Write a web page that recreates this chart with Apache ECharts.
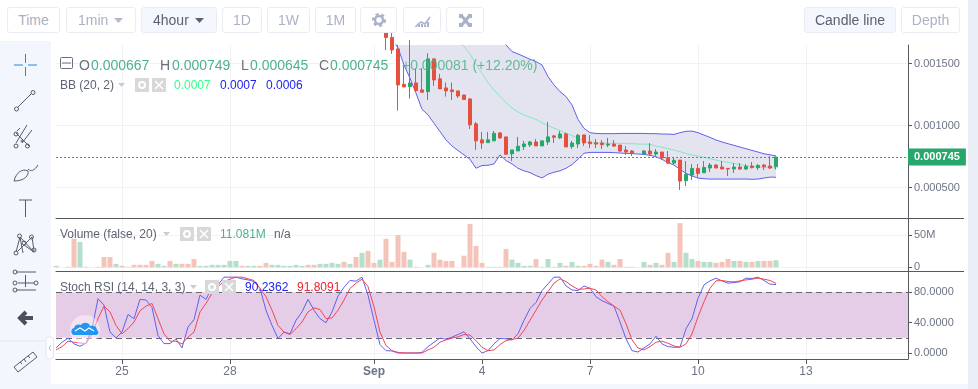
<!DOCTYPE html>
<html>
<head>
<meta charset="utf-8">
<title>Candle chart</title>
<script src="https://cdn.jsdelivr.net/npm/echarts@6/dist/echarts.min.js"></script>
<style>
html,body{margin:0;padding:0;background:#fff;overflow:hidden;font-family:"Liberation Sans",Arial,sans-serif;}
#page{position:relative;width:978px;height:389px;overflow:hidden;}
#main{position:absolute;left:0;top:0;width:978px;height:389px;}
.btn{position:absolute;top:7px;height:24px;line-height:24px;border:1px solid #e9edf3;border-radius:3px;box-sizing:content-box;text-align:center;font-size:14px;color:#aab2c2;background:#fff;}
.on{background:#f4f7fd;color:#5b6172;}
.t{position:absolute;white-space:nowrap;line-height:16px;}
#side{position:absolute;left:0;top:41px;width:51px;height:348px;background:#f3f6fd;}
#rstrip{position:absolute;left:968px;top:0;width:10px;height:389px;background:#e9eef7;}
#bstrip{position:absolute;left:51px;top:384px;width:917px;height:5px;background:#f2f5fb;}
svg{position:absolute;left:0;top:0;}
</style>
</head>
<body>
<div id="page">
<div id="main"></div>
<div id="side"></div><div id="rstrip"></div><div id="bstrip"></div>

<div class="btn" style="left:7px;width:51px">Time</div>
<div class="btn" style="left:66px;width:68px;text-align:left;text-indent:11px">1min</div>
<div class="btn on" style="left:141px;width:74px;text-align:left;text-indent:11px">4hour</div>
<div class="btn" style="left:222px;width:38px">1D</div>
<div class="btn" style="left:267px;width:41px">1W</div>
<div class="btn" style="left:315px;width:39px">1M</div>
<div class="btn" style="left:360px;width:35px"></div>
<div class="btn" style="left:403px;width:36px"></div>
<div class="btn" style="left:446px;width:36px"></div>
<div class="btn on" style="left:804px;width:90px">Candle line</div>
<div class="btn" style="left:901px;width:57px">Depth</div>

<div class="t" style="left:79px;top:57px;font-size:14px;color:#6a7080">O</div>
<div class="t" style="left:91px;top:57px;font-size:14px;color:#4cb28a">0.000667</div>
<div class="t" style="left:160px;top:57px;font-size:14px;color:#6a7080">H</div>
<div class="t" style="left:172px;top:57px;font-size:14px;color:#4cb28a">0.000749</div>
<div class="t" style="left:241px;top:57px;font-size:14px;color:#6a7080">L</div>
<div class="t" style="left:250px;top:57px;font-size:14px;color:#4cb28a">0.000645</div>
<div class="t" style="left:319px;top:57px;font-size:14px;color:#6a7080">C</div>
<div class="t" style="left:330px;top:57px;font-size:14px;color:#4cb28a">0.000745</div>
<div class="t" style="left:402px;top:57px;font-size:14px;color:#4cb28a;opacity:.85">+0.000081 (+12.20%)</div>

<div class="t" style="left:60px;top:77px;font-size:12px;color:#5d6375">BB (20, 2)</div>
<div class="t" style="left:174px;top:77px;font-size:12px;color:#33ff88">0.0007</div>
<div class="t" style="left:220px;top:77px;font-size:12px;color:#2222ee">0.0007</div>
<div class="t" style="left:266px;top:77px;font-size:12px;color:#2222ee">0.0006</div>

<div class="t" style="left:60px;top:226px;font-size:12px;color:#5d6375">Volume (false, 20)</div>
<div class="t" style="left:220px;top:226px;font-size:12px;color:#4cb28a">11.081M</div>
<div class="t" style="left:274px;top:226px;font-size:12px;color:#5d6375">n/a</div>

<div class="t" style="left:60px;top:279px;font-size:12px;color:#5d6375">Stoch RSI (14, 14, 3, 3)</div>
<div class="t" style="left:245px;top:279px;font-size:12px;color:#2222ee">90.2362</div>
<div class="t" style="left:297px;top:279px;font-size:12px;color:#ee2233">91.8091</div>

<svg width="978" height="389" fill="none">
  <!-- toolbar carets and icons -->
  <path d="M114 18h9l-4.500 5z" fill="#b4bac8"/>
  <path d="M195 18h9l-4.500 5z" fill="#5b6172"/>
  <circle cx="379" cy="20" r="4" stroke="#a9b1cc" stroke-width="2.500"/>
  <circle cx="379" cy="20" r="6" stroke="#a9b1cc" stroke-width="2" stroke-dasharray="3 3"/>
  <path d="M416 26l5-4 4 2 5-7" stroke="#a9b1cc" stroke-width="1.500"/>
  <path d="M416 27v-1M419 27v-3M422 27v-3M425 27v-2M428 27v-5" stroke="#a9b1cc" stroke-width="2"/>
  <path d="M461 15l9 11M470 15l-9 11" stroke="#a9b1cc" stroke-width="3"/>
  <rect x="459" y="14" width="4" height="4" fill="#a9b1cc"/><rect x="468" y="14" width="4" height="4" fill="#a9b1cc"/>
  <rect x="459" y="23" width="4" height="4" fill="#a9b1cc"/><rect x="468" y="23" width="4" height="4" fill="#a9b1cc"/>

  <!-- pane separators run on past the price axis -->
  <path d="M908 218.500H964M908 271.500H964" stroke="#55585f"/>

  <!-- sidebar -->
  <path d="M0 341H51" stroke="#e3e6ee"/>
  <path d="M14 65h9M28 65h9M25.500 54v9M25.500 67v9" stroke="#1e88e5"/>
  <g stroke="#555b6b">
    <path d="M18 107L31 94"/><circle cx="16.500" cy="109" r="2"/><circle cx="33" cy="92.500" r="2"/>
    <path d="M16 143L27 125M22 143L32 130M16 133L30 147M20 128l-3 3"/><circle cx="16" cy="146" r="2"/><circle cx="16" cy="134" r="2"/><circle cx="27.500" cy="146" r="2"/><circle cx="22" cy="141" r="1"/>
    <path d="M14 181c2-8 8-13 14-10 1 4-3 10-14 10zM28 169c3 3 6 2 10-4"/>
    <path d="M19 200h13M25.500 200v17"/>
    <path d="M16 252L20 237M20 237l3 16M20 237l14 15M32 237l2 14M32 237l-14 14M24 245l10 7"/><circle cx="16" cy="253" r="2"/><circle cx="19.500" cy="236" r="2"/><circle cx="31.500" cy="237" r="2"/><circle cx="34" cy="250" r="2"/><circle cx="24" cy="243" r="2"/>
    <path d="M16 272h20M18 283h16M16 290h20M25.500 275v12"/><circle cx="15" cy="272" r="2"/><circle cx="15" cy="283" r="2"/><circle cx="36" cy="283" r="2"/><circle cx="15" cy="290" r="2"/>
    <path d="M14 367l19-15 4 5-19 15zM20 362l2 2M24 359l2 3M28 356l2 2"/>
  </g>
  <path d="M33 318H22M26 312l-6 6 6 6" stroke="#4a5060" stroke-width="4" stroke-linejoin="miter"/>
  <rect x="46" y="337" width="7.500" height="22" rx="3" fill="#fff" stroke="#e3e6ee"/>
  <path d="M51 345l-2 3 2 3" stroke="#b4bac8"/>

  <!-- legend controls -->
  <rect x="60.500" y="57.500" width="12" height="11" rx="1" stroke="#6a7080"/><path d="M62 63h9" stroke="#6a7080"/>
  <path d="M118 83h7l-3.500 4z" fill="#c9ccd6"/><path d="M163 232h7l-3.500 4z" fill="#c9ccd6"/><path d="M190 285h7l-3.500 4z" fill="#c9ccd6"/>
  <g>
    <rect x="135" y="78" width="14" height="14" fill="#d8d8d8"/><circle cx="142" cy="85" r="3" stroke="#fff" stroke-width="2"/>
    <rect x="152" y="78" width="14" height="14" fill="#d8d8d8"/><path d="M155 81l8 8M163 81l-8 8" stroke="#fff" stroke-width="1.500"/>
    <rect x="180" y="227" width="14" height="14" fill="#d8d8d8"/><circle cx="187" cy="234" r="3" stroke="#fff" stroke-width="2"/>
    <rect x="197" y="227" width="14" height="14" fill="#d8d8d8"/><path d="M200 230l8 8M208 230l-8 8" stroke="#fff" stroke-width="1.500"/>
    <rect x="205" y="280" width="14" height="14" fill="#d8d8d8"/><circle cx="212" cy="287" r="3" stroke="#fff" stroke-width="2"/>
    <rect x="222" y="280" width="14" height="14" fill="#d8d8d8"/><path d="M225 283l8 8M233 283l-8 8" stroke="#fff" stroke-width="1.500"/>
  </g>

  <!-- watermark -->
  <circle cx="85" cy="330" r="15" fill="#fff" opacity=".45"/>
  <path d="M74 335c-3 0-4-6 0-7 1-4 5-4 7-3 2-3 8-3 9 1 3-1 7 0 7 4 2 1 2 5-1 5z" fill="#2196f3"/>
  <path d="M75 331l5-3 5 3 4-3 5 3" stroke="#fff" stroke-width="1.200"/>
</svg>
</div>

<script>
// prices below are in millionths (745 = 0.000745)
var candleStart = 55;
var opens = [
  1760,1710,1617,1332,1314,1343,1287,1273,1537,1376,
  1303,1287,1279,1246,1214,1013,884,862,876,940,
  908,771,795,830,843,867,835,867,916,900,
  932,830,851,924,867,861,859,842,850,842,
  802,794,null,770,794,770,786,738,697,721,
  555,600,654,619,657,681,665,654,649,665,
  649,673,660,681,673,667];
var closes = [
  1710,1609,1327,1311,1343,1281,1268,1537,1367,1295,
  1279,1273,1238,1209,1005,876,859,884,937,900,
  768,803,833,851,867,835,876,908,905,932,
  827,859,921,859,853,850,845,850,834,794,
  786,775,null,794,770,786,738,697,719,552,
  606,654,614,662,681,657,649,649,665,649,
  670,660,678,668,657,745];
var lows = [
  1609,1577,1120,1311,1217,1273,1268,1206,1319,1295,
  1233,1206,1222,1209,972,803,811,862,876,892,
  763,714,795,803,827,835,835,843,859,892,
  827,811,819,835,818,818,810,826,826,786,
  762,754,null,762,754,746,721,689,689,480,
  512,560,582,619,625,657,649,592,617,641,
  641,654,641,641,649,645];
var highs = [
  1790,1750,1650,1480,1690,1462,1462,1582,1537,1416,
  1346,1346,1279,1246,1220,1029,948,948,956,948,
  908,803,908,876,876,892,876,1029,924,956,
  943,876,932,924,923,891,883,899,883,842,
  834,802,null,802,858,810,786,794,746,721,
  713,689,689,713,697,689,713,654,697,697,
  689,705,689,689,754,749];

var bandStart = 56;
var bbLower = [
  1700,1625,1488,1381,1260,1131,1085,1018,951,884,
  835,798,763,728,655,677,679,690,763,717,
  690,655,634,620,596,577,607,623,634,655,
  685,728,776,783,783,783,783,781,778,775,
  773,770,767,759,748,727,700,681,646,614,
  592,576,571,568,568,568,568,568,568,568,
  566,568,576,584,582];
var bbUpper = [
  2050,2080,2100,2110,2100,2090,2080,2060,2040,2020,
  2000,1980,1950,1920,1880,1840,1800,1760,1710,1650,
  1596,1577,1556,1534,1515,1488,1394,1327,1273,1233,
  1166,1049,977,942,936,934,934,934,936,936,
  936,936,936,934,934,931,931,928,942,953,
  955,942,923,904,883,867,853,840,826,813,
  799,786,772,764,754];
var midStart = 67;
var bbMid = [
  1690,1636,1577,1496,1421,1346,1287,1233,1185,
  1142,1109,1085,1066,1050,1023,999,978,959,937,
  918,896,877,861,859,856,856,856,856,853,
  853,850,850,848,834,824,813,802,789,775,
  762,754,743,732,721,711,703,695,684,676,
  670,665,662,660,657];

// volume in millions
var volumes = [
  2.5,0,1,44,39,1,0,1,16,16,
  5.5,2.5,1,4,4,4,10,5.5,2.5,10,
  5.5,5.5,5.5,13,2.5,2.5,4,4,4,10,
  10,2.5,2.5,2.5,2.5,7,4,4,2.5,2.5,
  4,2.5,4,4,5.5,5.5,7,5.5,8.5,5.5,
  16,22.5,25.5,7,12,44,8.5,50,24,12,
  1,0,4,22.5,12,10,10,0,18,67,
  33,7,1,1,1,28.5,12,7,2.5,2.5,
  13,1,13,1,7,2.5,8.5,2.5,2.5,5.5,
  2.5,12,8.5,4,13,1,1,0,8.5,4,
  7,4,22.5,8.5,68,22.5,13,10,8.5,8.5,
  7,8.5,13,10,10,8.5,8.5,10,10,10,
  11.081];
var volumeSides = ('grrrggrrrr'+'grgrrrrggr'+'grrrgggggg'+'grggrrgggg'+'ggrrggggrg'+
  'rgrrgrrrrg'+'rrgrrrrrrr'+'rrggrrgggg'+'rggrgrggrr'+'rrgrrrrrgr'+'grrgrggrgg'+'rrrgrgrgrr'+'g').split('');

var stochK = [
  6.7,14.2,19.6,12,8.9,12.9,32,71.6,63.1,27.6,
  20,27.6,50.7,45.3,70.7,69.8,60,23.1,12.4,12.4,
  18.7,6.7,34.2,44,76.4,70.7,86.7,89.8,100,100,
  100,97.8,96.4,94.2,85.3,56.4,36.4,19.1,27.6,25.3,
  43.1,54.2,70.7,56.4,45.3,40,54.2,75.1,86.7,95.6,
  94.7,100,76.4,43.1,11.1,3.1,2.7,0,0,0,
  0,0.9,8.4,14.2,19.6,18.2,20.9,24.4,28,18.7,
  8.4,0,3.1,12,19.1,18.7,17.3,25.3,43.1,58.7,
  66.7,82.2,91.1,100,100,88.4,83.1,82.2,88.4,85.3,
  74.2,68.9,65.3,61.8,40.9,18.7,3.1,1.3,6.7,12,
  22.2,12,8.4,7.6,7.6,32,45.3,72,89.8,95.1,
  98.7,95.1,92,92.9,93.8,98.7,98.2,100,95.6,90.7,
  90.2362];
var stochD = [
  4,8.4,15.6,14.2,13.3,12.4,25.3,45.3,61.8,54.2,
  36.4,25.3,32,40.9,55.6,61.8,65.3,45.3,25.3,15.6,
  15.6,12,20.9,27.6,54.2,65.3,78.7,87.6,94.2,97.3,
  100,100,97.8,95.6,85.3,74.2,56.4,36.4,27.6,24.4,
  32,40.9,54.2,59.6,57.3,45.3,46.2,56.4,69.8,85.3,
  92,97.3,87.6,60.9,27.6,9.8,3.1,0.9,0,0,
  0,0,4,7.6,14.2,17.3,19.6,21.3,24.4,23.6,
  16.4,7.6,3.1,4,11.1,16.4,17.8,19.6,29.8,43.1,
  56.4,69.8,80.9,92,97.8,94.2,88.4,84,84.4,85.3,
  83.1,74.2,67.6,61.8,56.4,38.7,17.3,6.7,4,8.4,
  14.2,15.6,12.9,9.3,7.6,12,25.3,47.6,67.6,85.3,
  95.1,95.6,94.2,93.8,95.1,96.4,97.3,98.7,97.3,95.6,
  91.8091];

var slotCount = 143;
var tickSlots = [11,29,53,71,89,107,125];
var tickNames = ['25','28','Sep','4','7','10','13'];
var lastPrice = 745;

var UP = '#27a76c', DOWN = '#e5503f';
var UP_SOFT = '#b4dfca', DOWN_SOFT = '#f4c4bb';
var AXIS = '#55585f', GRID = '#f1f1f4', TEXT = '#6d7385';

var slots = [];
for (var i = 0; i < slotCount; i++) slots.push(String(i));

function pad(start, arr) {
    var out = [];
    for (var i = 0; i < start; i++) out.push('-');
    return out.concat(arr);
}
var candles = pad(candleStart, opens.map(function (o, i) {
    return o === null ? ['-', '-', '-', '-'] : [o, closes[i], lows[i], highs[i]];
}));
var bandGap = bbUpper.map(function (u, i) { return u - bbLower[i]; });
var volumeBars = volumes.map(function (v, i) {
    return {value: v, itemStyle: {color: volumeSides[i] === 'g' ? UP_SOFT : DOWN_SOFT}};
});

function isTick(i) { return tickSlots.indexOf(i) >= 0; }

function xAxis(gridIndex, withLabels) {
    return {
        type: 'category', gridIndex: gridIndex, data: slots, boundaryGap: false,
        axisLine: {onZero: false, lineStyle: {color: AXIS}},
        axisTick: {show: withLabels, length: 5, lineStyle: {color: AXIS}, interval: function (i) { return isTick(i); }},
        splitLine: {show: true, lineStyle: {color: GRID}, interval: function (i) { return isTick(i); }},
        axisLabel: withLabels ? {
            interval: function (i) { return isTick(i); },
            margin: 7, fontSize: 12, color: TEXT,
            fontFamily: '"Liberation Sans", Arial, sans-serif',
            formatter: function (v) {
                var name = tickNames[tickSlots.indexOf(+v)];
                return name === 'Sep' ? '{b|Sep}' : name;
            },
            rich: {b: {fontWeight: 'bold', fontSize: 12, color: TEXT}}
        } : {show: false}
    };
}

function yAxis(gridIndex, min, max, ticks, fmt) {
    return {
        type: 'value', gridIndex: gridIndex, position: 'right', min: min, max: max, scale: true,
        axisLine: {show: true, lineStyle: {color: AXIS}},
        axisTick: {show: true, length: 4, customValues: ticks, lineStyle: {color: AXIS}},
        splitLine: {show: true, lineStyle: {color: GRID}},
        axisLabel: {
            customValues: ticks, margin: 6, fontSize: 11, color: TEXT, formatter: fmt, padding: [4, 0, 0, 0],
            fontFamily: '"Liberation Sans", Arial, sans-serif'
        }
    };
}

var chart = echarts.init(document.getElementById('main'), null, {renderer: 'canvas'});
var option = {
    animation: false,
    textStyle: {fontFamily: '"Liberation Sans", Arial, sans-serif'},
    grid: [
        {left: 56, width: 852, top: 45, height: 173},
        {left: 56, width: 852, top: 218, height: 53},
        {left: 56, width: 852, top: 271, height: 88}
    ],
    xAxis: [xAxis(0, false), xAxis(1, false), xAxis(2, true)],
    yAxis: [
        yAxis(0, 254, 1649, [500, 1000, 1500], function (v) { return (v / 1e6).toFixed(6); }),
        yAxis(1, -5.5, 76, [0, 50], function (v) { return v === 0 ? '0' : v + 'M'; }),
        yAxis(2, -7.9, 108.1, [0, 40, 80], function (v) { return v.toFixed(4); })
    ],
    series: [
        {
            type: 'line', name: 'lower', xAxisIndex: 0, yAxisIndex: 0, stack: 'bb',
            data: pad(bandStart, bbLower), symbol: 'none', lineStyle: {width: 0}
        },
        {
            type: 'line', name: 'band', xAxisIndex: 0, yAxisIndex: 0, stack: 'bb',
            data: pad(bandStart, bandGap), symbol: 'none', lineStyle: {width: 0},
            areaStyle: {color: '#e4e4f0', opacity: 1}
        },
        {
            type: 'line', name: 'bbLower', xAxisIndex: 0, yAxisIndex: 0,
            data: pad(bandStart, bbLower), symbol: 'none', lineStyle: {width: 1, color: '#6060f0'}
        },
        {
            type: 'line', name: 'bbUpper', xAxisIndex: 0, yAxisIndex: 0,
            data: pad(bandStart, bbUpper), symbol: 'none', lineStyle: {width: 1, color: '#6060f0'}
        },
        {
            type: 'line', name: 'bbMid', xAxisIndex: 0, yAxisIndex: 0,
            data: pad(midStart, bbMid), symbol: 'none', lineStyle: {width: 1, color: '#84e6c2'}
        },
        {
            type: 'candlestick', name: 'price', xAxisIndex: 0, yAxisIndex: 0, z: 5,
            data: candles, barWidth: 4,
            itemStyle: {color: UP, color0: DOWN, borderColor: UP, borderColor0: DOWN, borderWidth: 1},
            markLine: {
                silent: true, symbol: 'none', animation: false,
                lineStyle: {type: [2, 2], width: 1, color: UP},
                data: [{yAxis: lastPrice}],
                label: {
                    position: 'end', distance: 0, padding: [3, 6], color: '#fff', fontSize: 11,
                    fontWeight: 'bold', backgroundColor: UP,
                    formatter: function () { return (lastPrice / 1e6).toFixed(6); }
                }
            }
        },
        {
            type: 'bar', name: 'volume', xAxisIndex: 1, yAxisIndex: 1, data: volumeBars, barWidth: 5
        },
        {
            type: 'line', name: 'k', xAxisIndex: 2, yAxisIndex: 2, z: 6,
            data: stochK, symbol: 'none', lineStyle: {width: 1, color: '#6060ee'},
            markArea: {
                silent: true, z: 1, itemStyle: {color: '#e5cde8', opacity: 1},
                data: [[{yAxis: 20}, {yAxis: 80}]]
            },
            markLine: {
                silent: true, symbol: 'none', animation: false, label: {show: false},
                lineStyle: {type: [6, 4], width: 1, color: '#666670'},
                data: [{yAxis: 20}, {yAxis: 80}]
            }
        },
        {
            type: 'line', name: 'd', xAxisIndex: 2, yAxisIndex: 2, z: 7,
            data: stochD, symbol: 'none', lineStyle: {width: 1, color: '#f0465a'}
        }
    ]
};
chart.setOption(option);
</script>
</body>
</html>
